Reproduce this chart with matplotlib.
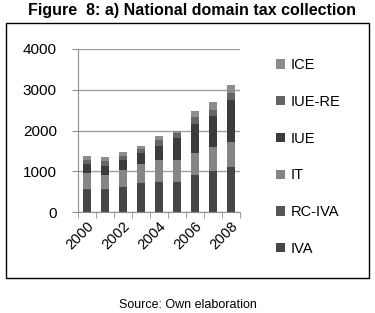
import numpy as np
import matplotlib.pyplot as plt
from matplotlib.patches import Rectangle

years = ['2000', '2001', '2002', '2003', '2004', '2005', '2006', '2007', '2008']
tick_labels = ['2000', '', '2002', '', '2004', '', '2006', '', '2008']

# values (millions)
iva    = [550, 550, 608, 708, 733, 733, 900, 1000, 1100]
rc_iva = [15, 15, 15, 15, 15, 15, 15, 15, 15]
it     = [385, 352, 402, 444, 519, 519, 543, 577, 610]
iue    = [217, 208, 242, 275, 358, 541, 692, 758, 1025]
iue_re = [100, 125, 116, 108, 142, 125, 183, 150, 167]
ice    = [100, 100, 92, 67, 100, 67, 150, 200, 208]

series = [('IVA', iva, '#464646'), ('RC-IVA', rc_iva, '#555555'),
          ('IT', it, '#858585'), ('IUE', iue, '#3c3c3c'),
          ('IUE-RE', iue_re, '#656565'), ('ICE', ice, '#8c8c8c')]

plt.rcParams['font.family'] = ['Liberation Sans', 'DejaVu Sans']

W, H = 375, 313
fig = plt.figure(figsize=(W / 100, H / 100), dpi=100)

fig.text(192 / W, 1 - 11 / H, 'Figure  8: a) National domain tax collection',
         ha='center', va='center', fontsize=11.5, fontweight='bold')
fig.text(188 / W, 1 - 305 / H, 'Source: Own elaboration',
         ha='center', va='center', fontsize=9)
fig.patches.append(Rectangle((6 / W, 1 - 278 / H), 363 / W, 255 / H,
                             transform=fig.transFigure, fill=False,
                             edgecolor='black', linewidth=1))

ax = fig.add_axes([78 / W, 1 - 212 / H, 162 / W, 163 / H])
x = np.arange(len(years))
bottom = np.zeros(len(years))
handles = []
for name, vals, col in series:
    b = ax.bar(x, vals, 0.4, bottom=bottom, color=col, label=name)
    handles.append(b)
    bottom += np.array(vals)

ax.set_xlim(-0.5, 8.5)
ax.set_ylim(0, 4000)
ax.set_yticks([0, 1000, 2000, 3000, 4000])
ax.yaxis.grid(True, color='#a0a0a0', linewidth=1)
ax.set_axisbelow(True)
ax.set_xticks(x)
ax.set_xticklabels(tick_labels, rotation=45, ha='right', rotation_mode='anchor',
                   fontsize=10.5)
ax.tick_params(axis='x', length=0, pad=5)
ax.set_xticks(np.arange(-0.5, 9, 1), minor=True)
ax.tick_params(axis='x', which='minor', length=4, color='#909090')
ax.tick_params(axis='y', length=4.3, color='#909090', labelsize=11, pad=11)
for s in ['top', 'right']:
    ax.spines[s].set_visible(False)
ax.spines['left'].set_color('#909090')
ax.spines['bottom'].set_color('#909090')

leg = fig.legend(handles[::-1], [s[0] for s in series][::-1],
                 loc='upper left', bbox_to_anchor=(263 / W, 1 - 45 / H),
                 frameon=False, fontsize=10.5, labelspacing=1.56,
                 handlelength=0.6, handleheight=0.6, handletextpad=0.4)

fig.savefig('out.png', dpi=100)
